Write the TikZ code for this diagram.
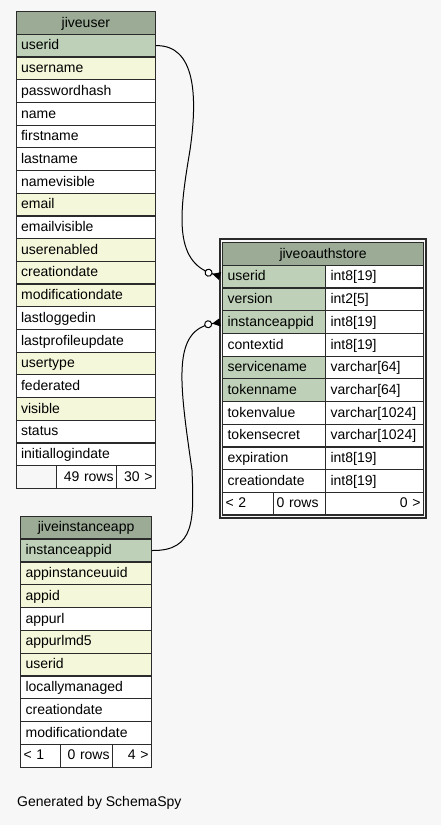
\documentclass[tikz,border=0pt]{standalone}
\usepackage{fontspec}
\setmainfont{Liberation Sans}
\usetikzlibrary{arrows.meta}
\definecolor{hd}{HTML}{9BAB96}
\definecolor{pk}{HTML}{BED1B8}
\definecolor{ix}{HTML}{F4F7DA}
\definecolor{wh}{HTML}{FFFFFF}
\definecolor{bg}{HTML}{F7F7F7}
\definecolor{ln}{HTML}{2B2B2B}

\begin{document}
\begin{tikzpicture}[x=1pt, y=-1pt,
    cell/.style={draw=ln, line width=1.2pt, anchor=north west, inner xsep=5pt, inner ysep=0pt,
        minimum height=22.7pt, text height=11pt, text depth=2.5pt, text width=#1, align=left,
        font=\fontsize{14}{16}\selectfont},
    head/.style={cell=#1, fill=hd, align=center},
    foot/.style={cell=#1, fill=wh, inner xsep=3pt, align=right},
    fk/.style={draw=black, line width=1pt, shorten >=2pt,
        -{Circle[length=8pt, fill=white] Triangle[reversed, length=8pt, width=8pt]}},
]
\fill[bg] (0,0) rectangle (441,825);
\useasboundingbox (0,0) rectangle (441,825);

% jiveuser
\node[head=129.5pt] (u0) at (15.5, 11) {jiveuser};
\foreach \c/\s [count=\i] in {userid/pk, username/ix, passwordhash/wh, name/wh, firstname/wh,
    lastname/wh, namevisible/wh, email/ix, emailvisible/wh, userenabled/ix, creationdate/ix,
    modificationdate/ix, lastloggedin/wh, lastprofileupdate/wh, usertype/ix, federated/wh,
    visible/ix, status/wh, initiallogindate/wh}
    \node[cell=129.5pt, fill=\s] (u\i) at (15.5, {11+22.7*\i}) {\c};
\node[foot=34.5pt, fill=bg] (uf1) at (15.5, 465) {};
\node[foot=54pt] (uf2) at (56, 465) {49 rows};
\node[foot=33pt] (uf3) at (116, 465) {30 >};

% jiveoauthstore (selected table)
\draw[ln, line width=2pt] (219.5, 238.5) rectangle (425.5, 517.5);
\node[head=191pt] (o0) at (222, 242) {jiveoauthstore};
\foreach \c/\s/\t [count=\i] in {userid/pk/{int8[19]}, version/pk/{int2[5]},
    instanceappid/pk/{int8[19]}, contextid/wh/{int8[19]}, servicename/pk/{varchar[64]},
    tokenname/pk/{varchar[64]}, tokenvalue/wh/{varchar[1024]}, tokensecret/wh/{varchar[1024]},
    expiration/wh/{int8[19]}, creationdate/wh/{int8[19]}}
{
    \node[cell=93pt, fill=\s] (o\i) at (222, {242+22.7*\i}) {\c};
    \node[cell=88pt, fill=wh] (t\i) at (325, {242+22.7*\i}) {\t};
}
\node[foot=45pt, align=left] (of1) at (222, 491.7) {< 2};
\node[foot=46pt, align=left] (of2) at (273, 491.7) {0 rows};
\node[foot=92pt] (of3) at (325, 491.7) {0 >};

% jiveinstanceapp
\node[head=121pt] (i0) at (20, 515.7) {jiveinstanceapp};
\foreach \c/\s [count=\i] in {instanceappid/pk, appinstanceuuid/ix, appid/ix, appurl/wh,
    appurlmd5/ix, userid/ix, locallymanaged/wh, creationdate/wh, modificationdate/wh}
    \node[cell=121pt, fill=\s, minimum height=22.8pt] (i\i) at (20, {515.7+22.8*\i}) {\c};
\node[foot=34pt, align=left, minimum height=22.8pt] (if1) at (20, 743.7) {< 1};
\node[foot=46pt, minimum height=22.8pt] (if2) at (60, 743.7) {0 rows};
\node[foot=33pt, minimum height=22.8pt] (if3) at (112, 743.7) {4 >};

% foreign keys
\draw[fk] (u1.east) .. controls (195, 45) and (198, 95) .. (190, 150)
    .. controls (180, 210) and (172, 262) .. (o1.west);
\draw[fk] (i1.east) .. controls (195, 551) and (194, 520) .. (192, 470)
    .. controls (179, 380) and (172, 330) .. (o3.west);

\node[anchor=west, inner sep=0pt, font=\fontsize{14}{16}\selectfont] (gen) at (17, 803) {Generated by SchemaSpy};
\end{tikzpicture}
\end{document}
